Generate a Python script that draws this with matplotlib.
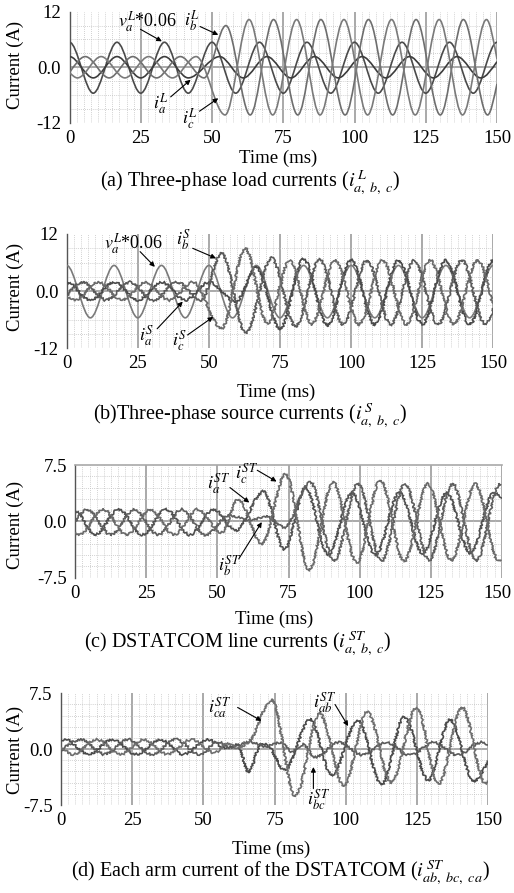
import numpy as np
import matplotlib
matplotlib.use('Agg')
import matplotlib.pyplot as plt
import matplotlib.transforms as mtransforms
from matplotlib.path import Path
from matplotlib.patches import PathPatch

plt.rcParams['font.family'] = ['Liberation Serif', 'DejaVu Serif']
plt.rcParams['mathtext.fontset'] = 'stix'
plt.rcParams['font.size'] = 13.5

W, H = 514, 893

# Waveforms are stored as the turning points: time (ms), current (A)

# supply voltage (scaled), same trace in (a) and (b)
va_t = [0, 8.33, 16.67, 25.0, 33.33, 41.67, 50.0, 58.33, 66.67, 75.0, 83.33,
        91.67, 100.0, 108.33, 116.67, 125.0, 133.33, 141.67, 150.0]
va_v = [5.4, -5.6, 5.4, -5.6, 5.4, -5.6, 5.4, -5.6, 5.4, -5.6, 5.4,
        -5.6, 5.4, -5.6, 5.4, -5.6, 5.4, -5.6, 5.4]

# (a) load currents
iaL_t = [0, 8.33, 16.67, 25.0, 33.33, 41.67, 52.7, 61.0, 69.3, 77.7, 86.0,
         94.3, 102.7, 111.0, 119.3, 127.7, 136.0, 144.3, 150.0]
iaL_v = [2.3, -2.3, 2.3, -2.3, 2.3, -2.3, 2.3, -2.3, 2.3, -2.3, 2.3,
         -2.3, 2.3, -2.3, 2.3, -2.3, 2.3, -2.3, 1.2]
ibL_t = [0, 5.56, 13.89, 22.22, 30.56, 38.89, 47.22, 54.9, 63.4, 71.6, 80.1,
         88.2, 96.7, 104.9, 113.4, 121.6, 130.1, 138.2, 146.7, 150.0]
ibL_v = [-1.15, 2.3, -2.3, 2.3, -2.3, 2.3, -2.3, 9.0, -10.3, 10.3, -10.3,
         10.3, -10.3, 10.3, -10.3, 10.3, -10.3, 10.3, -10.3, -3.6]
icL_t = [0, 2.78, 11.11, 19.44, 27.78, 36.11, 44.44, 54.6, 63.0, 71.3, 79.7,
         87.9, 96.3, 104.6, 113.0, 121.3, 129.7, 137.9, 146.3, 150.0]
icL_v = [-1.15, -2.3, 2.3, -2.3, 2.3, -2.3, 2.3, -10.3, 10.3, -10.3, 10.3,
         -10.3, 10.3, -10.3, 10.3, -10.3, 10.3, -10.3, 10.3, 1.8]

# (b) source currents
iaS_t = [0, 8.33, 16.67, 25.0, 33.33, 41.67, 50.0, 59.5, 66.7, 75.0, 83.3,
         91.7, 100.0, 108.3, 116.7, 125.0, 133.3, 141.7, 150.0]
iaS_v = [1.9, -1.9, 1.9, -1.9, 1.9, -1.9, 1.9, -2.2, 5.0, -8.0, 6.8,
         -7.2, 6.5, -7.0, 6.5, -7.0, 6.5, -7.0, 6.5]
ibS_t = [0, 5.56, 13.89, 22.22, 30.56, 38.89, 47.22, 54.5, 63.0, 72.0, 80.5,
         88.9, 97.2, 105.6, 113.9, 122.2, 130.6, 138.9, 147.2, 150.0]
ibS_v = [-0.95, 1.9, -1.9, 1.9, -1.9, 1.9, -1.9, 8.0, -8.8, 7.0, -7.4,
         6.6, -7.0, 6.5, -7.0, 6.5, -7.0, 6.5, -7.0, -3.6]
icS_t = [0, 2.78, 11.11, 19.44, 27.78, 36.11, 44.44, 54.5, 62.8, 70.5, 78.5,
         86.1, 94.4, 102.8, 111.1, 119.4, 127.8, 136.1, 144.4, 150.0]
icS_v = [-0.95, -1.9, 1.9, -1.9, 1.9, -1.9, 1.9, -7.8, 9.0, -6.8, 6.5,
         -7.0, 6.5, -7.0, 6.5, -7.0, 6.5, -7.0, 6.5, -3.2]

# (c) DSTATCOM line currents
iaST_t = [0, 6.94, 15.28, 23.61, 31.94, 40.28, 48.61, 56.5, 66.3, 73.5, 81.0,
          89.0, 97.3, 105.6, 114.0, 122.3, 130.6, 139.0, 147.3, 150.0]
iaST_v = [1.4, -1.8, 1.6, -1.8, 1.6, -1.8, 1.6, -1.2, 4.0, -3.8, 4.5,
          -4.5, 3.8, -4.5, 3.8, -4.3, 3.8, -4.3, 3.8, 3.0]
ibST_t = [0, 4.17, 12.5, 20.83, 29.17, 37.5, 45.83, 54.2, 62.0, 67.0, 73.5,
          82.7, 91.0, 99.4, 107.7, 116.0, 124.4, 132.7, 141.0, 149.4, 150.0]
ibST_v = [0.0, 1.6, -1.8, 1.6, -1.8, 1.6, -1.8, 0.8, 0.1, 0.7, -0.8,
          5.2, -5.3, 5.0, -5.3, 5.0, -5.2, 5.0, -5.3, 5.0, 4.9]
icST_t = [0, 1.39, 9.72, 18.06, 26.39, 34.72, 43.06, 51.4, 57.3, 65.7, 74.0,
          82.3, 90.7, 99.0, 107.3, 115.7, 124.0, 132.3, 140.7, 149.0, 150.0]
icST_v = [-1.4, -1.8, 1.6, -1.8, 1.6, -1.8, 1.6, -1.5, 2.9, -3.0, 6.3,
          -6.5, 5.2, -5.5, 5.5, -5.3, 5.0, -5.2, 5.0, -5.3, -5.2]

# (d) DSTATCOM arm currents
iab_t = [0, 1.39, 9.72, 18.06, 26.39, 34.72, 43.06, 51.4, 58.0, 62.0, 65.8, 70.5,
         73.0, 78.5, 87.5, 95.0, 104.2, 112.5, 120.5, 129.0, 136.5, 145.0, 150.0]
iab_v = [1.2, 1.3, -0.7, 1.3, -0.7, 1.3, -0.7, 1.3, 0.2, 0.6, -3.0, 0.8,
         0.3, -2.8, 4.0, -3.5, 3.9, -4.8, 4.3, -4.2, 4.0, -4.3, -1.5]
ibc_t = [0, 6.94, 15.28, 23.61, 31.94, 40.28, 48.61, 55.0, 60.0, 66.0, 72.0, 77.0,
         81.0, 85.0, 89.2, 97.5, 105.9, 114.2, 122.5, 130.8, 139.2, 147.5, 150.0]
ibc_v = [-0.2, 1.3, -0.7, 1.3, -0.7, 1.3, -0.7, 1.0, 0.2, 1.0, 0.4, 0.9,
         -0.3, 0.6, -1.1, 0.9, -0.8, 0.9, -0.8, 0.9, -0.8, 0.9, 0.6]
ica_t = [0, 4.17, 12.5, 20.83, 29.17, 37.5, 45.83, 54.0, 58.0, 62.0, 66.0,
         74.0, 82.2, 90.8, 99.3, 107.5, 116.0, 124.8, 132.5, 140.8, 149.0, 150.0]
ica_v = [0.3, -0.7, 1.3, -0.7, 1.3, -0.7, 1.3, -0.5, 0.8, 0.2, 1.0,
         6.6, -6.3, 4.8, -5.0, 5.0, -4.5, 5.6, -4.7, 5.6, -4.6, -4.3]

x_ticks = [0, 25, 50, 75, 100, 125, 150]


def end_slope(v0, v1, v2, h):
    # flat if the trace starts/ends on a turning point, else follow the first swing
    if abs(v1 - v0) >= 0.8 * abs(v2 - v1):
        return 0.0
    return 1.4 * (v1 - v0) / h


def smooth_path(ts, vs):
    ts = np.asarray(ts, float)
    vs = np.asarray(vs, float)
    n = len(ts)
    h = np.diff(ts)
    d = np.diff(vs) / h
    m = np.zeros(n)
    for i in range(1, n - 1):
        if d[i - 1] * d[i] > 0:
            w1 = 2 * h[i] + h[i - 1]
            w2 = h[i] + 2 * h[i - 1]
            m[i] = (w1 + w2) / (w1 / d[i - 1] + w2 / d[i])
    m[0] = end_slope(vs[0], vs[1], vs[2], h[0])
    m[-1] = end_slope(vs[-1], vs[-2], vs[-3], -h[-1])
    verts = [(ts[0], vs[0])]
    codes = [Path.MOVETO]
    for i in range(n - 1):
        verts += [(ts[i] + h[i] / 3, vs[i] + m[i] * h[i] / 3),
                  (ts[i + 1] - h[i] / 3, vs[i + 1] - m[i + 1] * h[i] / 3),
                  (ts[i + 1], vs[i + 1])]
        codes += [Path.CURVE4] * 3
    return Path(verts, codes)


def fx(px):
    return px / W


def fy(py):
    return 1 - py / H


panels = [
    dict(box=(69.5, 11.7, 497, 122.8), lim=12, ystep=3, ylabels=['-12', '0.0', '12'],
         series=[(va_t, va_v, '#4a4a4a', False), (iaL_t, iaL_v, '#3c3c3c', False),
                 (ibL_t, ibL_v, '#6e6e6e', False), (icL_t, icL_v, '#7a7a7a', False)],
         notes=[(r'$v_a^L$*0.06', (27.4, 9.9), (24.9, 8.2), (32.4, 5.6)),
                (r'$i_b^L$', (42.9, 10.2), (45.8, 8.8), (52.2, 7.0)),
                (r'$i_a^L$', (32.0, -7.9), (35.5, -6.4), (42.5, -2.7)),
                (r'$i_c^L$', (42.3, -11.0), (45.6, -9.5), (52.2, -6.7))],
         xlab=(278, 158), cap=(250, 183), ylab=(15, 65),
         caption=r'(a) Three-phase load currents ($i^{\,L}_{a,\ b,\ c}$)'),
    dict(box=(66.7, 234, 493.3, 348.3), lim=12, ystep=3, ylabels=['-12', '0.0', '12'],
         series=[(va_t, va_v, '#7a7a7a', False), (iaS_t, iaS_v, '#4a4a4a', True),
                 (ibS_t, ibS_v, '#5a5a5a', True), (icS_t, icS_v, '#6a6a6a', True)],
         notes=[(r'$v_a^L$*0.06', (23.4, 10.0), (25.8, 8.3), (31.0, 5.1)),
                (r'$i_b^S$', (41.2, 10.9), (44.3, 9.0), (52.5, 6.9)),
                (r'$i_a^S$', (28.1, -9.4), (31.8, -7.9), (40.8, -2.2)),
                (r'$i_c^S$', (39.8, -10.3), (42.5, -9.2), (51.5, -5.4))],
         xlab=(276, 392), cap=(250, 416), ylab=(15, 287),
         caption=r'(b)Three-phase source currents ($i^{\,S}_{a,\ b,\ c}$)'),
    dict(box=(75.3, 465, 501.7, 577.7), lim=7.5, ystep=1.5, ylabels=['-7.5', '0.0', '7.5'],
         series=[(iaST_t, iaST_v, '#505050', True), (ibST_t, ibST_v, '#5e5e5e', True),
                 (icST_t, icST_v, '#6a6a6a', True)],
         notes=[(r'$i_c^{ST}$', (60.3, 6.4), (64.0, 6.8), (70.8, 5.3)),
                (r'$i_a^{ST}$', (50.3, 5.0), (54.4, 4.5), (61.2, 2.5)),
                (r'$i_b^{ST}$', (54.4, -5.9), (57.5, -5.0), (65.6, -0.1))],
         xlab=(274, 619), cap=(238, 644), ylab=(15, 525),
         caption=r'(c) DSTATCOM line currents ($i^{\,ST}_{a,\ b,\ c}$)'),
    dict(box=(61, 693.3, 488.3, 805), lim=7.5, ystep=1.5, ylabels=['-7.5', '0.0', '7.5'],
         series=[(iab_t, iab_v, '#4a4a4a', True), (ibc_t, ibc_v, '#5a5a5a', True),
                 (ica_t, ica_v, '#6e6e6e', True)],
         notes=[(r'$i_{ca}^{ST}$', (55.8, 5.6), (62.0, 5.6), (70.4, 3.8)),
                (r'$i_{ab}^{ST}$', (92.7, 6.3), (96.2, 6.0), (100.8, 3.1)),
                (r'$i_{bc}^{ST}$', (90.3, -6.7), (88.6, -5.3), (88.6, -2.4))],
         xlab=(271, 849), cap=(280, 873), ylab=(15, 750),
         caption=r'(d) Each arm current of the DSTATCOM ($i^{\,ST}_{ab,\ bc,\ ca}$)'),
]

fig = plt.figure(figsize=(W / 100, H / 100), dpi=100)

for k, p in enumerate(panels):
    l, t, r, b = p['box']
    ax = fig.add_axes([fx(l), fy(b), fx(r) - fx(l), (b - t) / H])
    lim = p['lim']
    ax.set_xlim(0, 150)
    ax.set_ylim(-lim, lim)
    ax.set_xticks(x_ticks)
    ax.set_xticklabels([str(v) for v in x_ticks])
    ax.set_xticks(np.arange(0, 150.01, 2.5), minor=True)
    ax.set_yticks([-lim, 0, lim])
    ax.set_yticklabels(p['ylabels'])
    ax.set_yticks(np.arange(-lim, lim + 0.01, p['ystep']), minor=True)
    ax.grid(which='minor', color='#c2c2c2', lw=0.6, ls=(0, (1, 1.5)), zorder=0)
    ax.tick_params(which='both', length=0)
    ax.tick_params(axis='x', pad=5)
    ax.tick_params(axis='y', pad=6)
    for x in x_ticks[1:]:
        ax.axvline(x, color='#a9a9a9', lw=1.4, zorder=1)
    ax.axhline(0, color='#a9a9a9', lw=1.4, zorder=1)
    for s in ['top', 'bottom', 'right']:
        ax.spines[s].set_visible(False)
    if k == 2:
        ax.spines['top'].set_visible(True)
        ax.spines['top'].set_color('#a9a9a9')
        ax.spines['top'].set_linewidth(1.2)
        # last label sits right at the page edge; nudge it in so it stays whole
        last = ax.get_xticklabels()[-1]
        last.set_transform(last.get_transform() +
                           mtransforms.ScaledTranslation(-4 / 100, 0, fig.dpi_scale_trans))
    ax.spines['left'].set_color('#555555')
    ax.spines['left'].set_linewidth(1.0)

    for ts, vs, col, noisy in p['series']:
        patch = PathPatch(smooth_path(ts, vs), fill=False, edgecolor=col, lw=1.2, zorder=3)
        if noisy:
            patch.set_sketch_params(1.1, 3.0, 3.0)
        ax.add_patch(patch)

    for label, txt, tail, head in p['notes']:
        ax.text(txt[0], txt[1], label, ha='center', va='center', fontsize=13, zorder=5)
        ax.annotate('', xy=head, xytext=tail,
                    arrowprops=dict(arrowstyle='-|>', color='black', lw=0.8,
                                    mutation_scale=7, shrinkA=0, shrinkB=0), zorder=5)

    fig.text(fx(p['xlab'][0]), fy(p['xlab'][1]), 'Time (ms)', ha='center', va='center')
    fig.text(fx(p['cap'][0]), fy(p['cap'][1]), p['caption'], ha='center', va='center',
             fontsize=14.5)
    fig.text(fx(p['ylab'][0]), fy(p['ylab'][1]), 'Current (A)', ha='center', va='center',
             rotation=90)

fig.savefig('out.png', dpi=100)
